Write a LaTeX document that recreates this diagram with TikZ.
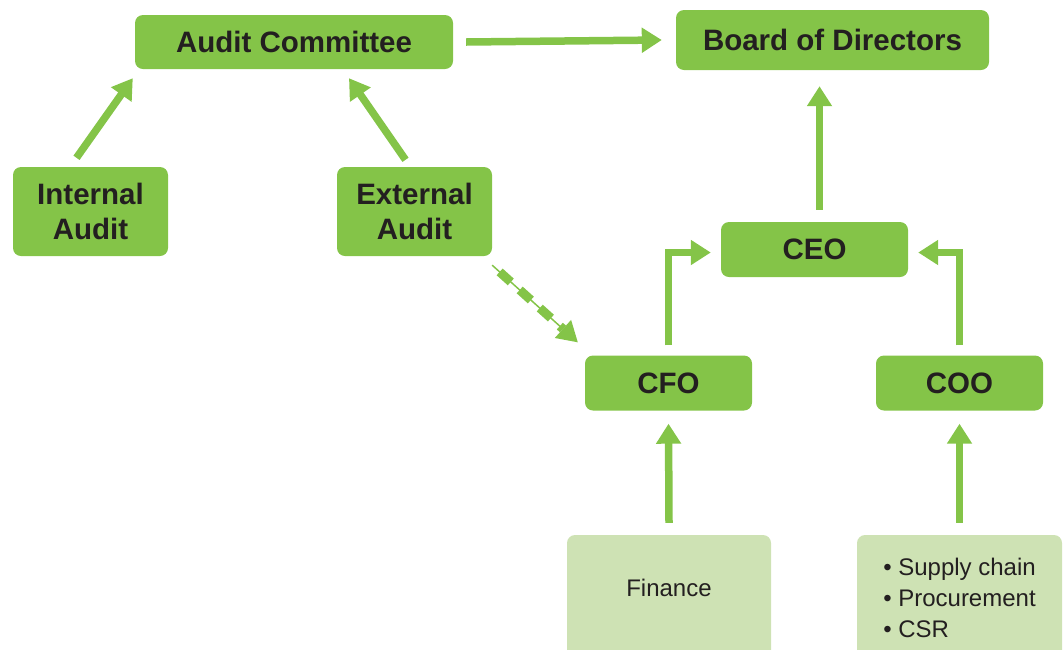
\documentclass[tikz,border=0pt]{standalone}
\usepackage{fontspec}
\setmainfont{Liberation Sans}
\usetikzlibrary{arrows.meta}

\definecolor{leaf}{RGB}{132,196,72}
\definecolor{pale}{RGB}{206,226,180}
\definecolor{ink}{RGB}{35,31,32}

\begin{document}
\begin{tikzpicture}[x=1pt, y=-1pt,
    box/.style={fill=leaf, rounded corners=8pt, inner sep=0pt, text=ink, align=center,
                font=\fontsize{29.5}{35}\selectfont\bfseries},
    sub/.style={fill=pale, rounded corners=8pt, inner sep=0pt, text=ink, align=left,
                font=\fontsize{24}{31}\selectfont},
    arr/.style={leaf, line width=7.5pt, -{Triangle[width=24pt,length=20pt]}}]
        \useasboundingbox (0,0) rectangle (1064,649);

        % top row
        \node[box, minimum width=318pt, minimum height=54pt] (ac)at(294,42) {Audit Committee};
        \node[box, minimum width=313pt, minimum height=60pt] (bod)at(832.5,40) {Board of Directors};

        % audit side
        \node[box, minimum width=155pt, minimum height=89pt] (ia)at(90.5,211.5) {Internal\\Audit};
        \node[box, minimum width=155pt, minimum height=89pt] (ea)at(414.5,211.5) {External\\Audit};

        % management side
        \node[box, minimum width=187pt, minimum height=55pt] (ceo)at(814.5,249.5) {CEO};
        \node[box, minimum width=167pt, minimum height=55pt] (cfo)at(668.5,383) {CFO};
        \node[box, minimum width=167pt, minimum height=55pt] (coo)at(959.5,383) {COO};

        % functions, cut off by the page edge
        \node[sub, minimum width=204pt, minimum height=126pt] (fin)at(669,598) {};
        \node[sub] (fintxt)at(669,588) {Finance};
        \node[sub, minimum width=205pt, minimum height=126pt] (sup)at(959.5,598)
            {\textbullet\ Supply chain\\\textbullet\ Procurement\\\textbullet\ CSR};

        \draw[arr] ([xshift=13pt]ac.east) -- ([xshift=-14pt]bod.west);
        \draw[arr] ([xshift=-14pt,yshift=9pt]ia.north) -- ([xshift=-2pt,yshift=-9pt]ac.south west);
        \draw[arr] ([xshift=-9pt,yshift=7pt]ea.north) -- ([xshift=55pt,yshift=-9pt]ac.south);
        \draw[arr] ([xshift=5pt,yshift=12pt]ceo.north) -- ([xshift=-13pt,yshift=-16pt]bod.south);
        \draw[arr] ([yshift=10pt]cfo.north) |- ([xshift=-10pt,yshift=-3pt]ceo.west);
        \draw[arr] ([yshift=10pt]coo.north) |- ([xshift=10pt,yshift=-3pt]ceo.east);
        \draw[arr] ([yshift=12pt]fin.north) -- ([yshift=-13pt]cfo.south);
        \draw[arr] ([yshift=12pt]sup.north) -- ([yshift=-13pt]coo.south);

        % external audit to CFO: thin line with thick dashes on top
        \draw[leaf, line width=1.5pt, -{Triangle[width=24pt,length=20pt]}]
            ([yshift=-9pt]ea.south east) -- ([xshift=-7pt,yshift=13pt]cfo.north west);
        \draw[leaf, line width=9pt, dash pattern=on 15pt off 12pt, dash phase=17pt, shorten >=20pt]
            ([yshift=-9pt]ea.south east) -- ([xshift=-7pt,yshift=13pt]cfo.north west);

\end{tikzpicture}
\end{document}
